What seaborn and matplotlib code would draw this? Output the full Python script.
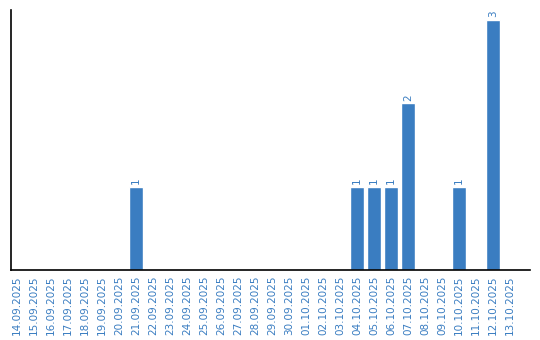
import matplotlib
matplotlib.use("Agg")
import matplotlib.pyplot as plt
import seaborn as sns
import pandas as pd

dates = ["14.09.2025", "15.09.2025", "16.09.2025", "17.09.2025", "18.09.2025", "19.09.2025",
         "20.09.2025", "21.09.2025", "22.09.2025", "23.09.2025", "24.09.2025", "25.09.2025",
         "26.09.2025", "27.09.2025", "28.09.2025", "29.09.2025", "30.09.2025", "01.10.2025",
         "02.10.2025", "03.10.2025", "04.10.2025", "05.10.2025", "06.10.2025", "07.10.2025",
         "08.10.2025", "09.10.2025", "10.10.2025", "11.10.2025", "12.10.2025", "13.10.2025"]
counts = [0, 0, 0, 0, 0, 0, 0, 1, 0, 0, 0, 0, 0, 0, 0, 0, 0, 0, 0, 0, 1, 1, 1, 2, 0, 0, 1, 0, 3, 0]

sns.set_style("white")
color = "#3a7dc1"
df = pd.DataFrame({"date": dates, "count": counts})

fig = plt.figure(figsize=(5.4, 3.4), dpi=100)
ax = fig.add_axes([0.0204, 0.206, 0.961, 0.765])
sns.barplot(data=df, x="date", y="count", color=color, saturation=1, width=0.82, ax=ax)
for p, v in zip(ax.patches, counts):
    if v > 0:
        ax.text(p.get_x() + p.get_width() / 2, v + 0.03, str(v), rotation=90,
                ha="center", va="bottom", fontsize=7.5, color=color)
ax.set_ylim(0, 3.12)
ax.set_xlim(-0.35, 30.18)
ax.set_xlabel("")
ax.set_ylabel("")
ax.set_yticks([])
ax.tick_params(axis="x", length=0, pad=4, labelsize=7.5, labelcolor=color, rotation=90)
for s in ["top", "right"]:
    ax.spines[s].set_visible(False)
for s in ["left", "bottom"]:
    ax.spines[s].set_color("black")
    ax.spines[s].set_linewidth(1.2)
fig.savefig("out.png", dpi=100)
